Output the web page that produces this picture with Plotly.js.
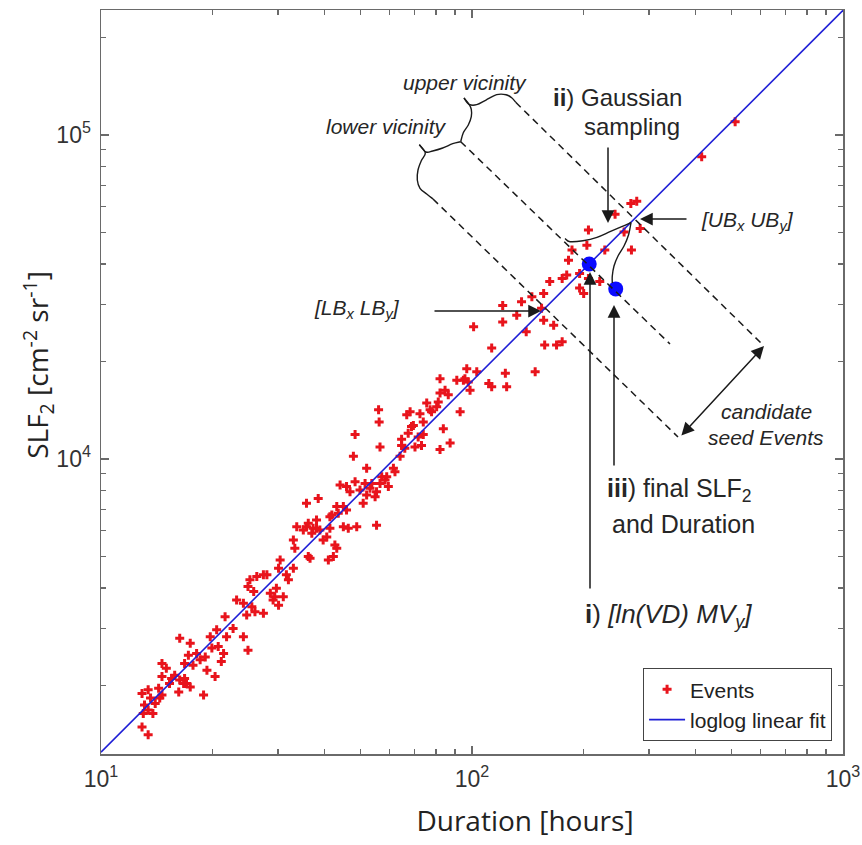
<!DOCTYPE html>
<html><head><meta charset="utf-8">
<script src="https://cdn.plot.ly/plotly-3.0.1.min.js"></script>
<style>html,body{margin:0;padding:0;background:#fff;}#chart{width:862px;height:845px;}</style>
</head><body><div id="chart"></div>
<script>
// ---- data ----
const durationHours = [
12.9,13.4,13.0,13.4,13.8,13.1,14.0,13.6,12.9,13.4,
14.4,14.6,14.3,14.6,15.0,14.6,15.3,15.5,15.8,16.2,
16.3,16.8,17.0,17.4,16.7,17.2,16.8,16.3,17.4,17.7,
18.1,18.5,18.9,19.3,19.1,19.7,19.9,20.3,20.5,20.7,
21.1,21.4,21.8,21.6,22.7,23.2,24.2,24.2,24.9,24.7,
25.2,24.9,25.8,25.5,26.0,26.3,27.4,27.4,28.0,28.6,
29.1,29.4,30.1,29.7,31.0,30.1,30.4,31.6,32.0,33.0,
33.0,33.3,33.7,35.1,35.8,36.2,36.6,35.8,36.2,37.0,
37.3,38.1,38.5,38.1,38.9,39.7,40.6,41.0,41.4,41.4,
41.9,42.3,42.7,43.2,43.2,43.6,45.0,45.0,45.9,46.4,
44.1,45.9,46.9,48.4,47.9,48.4,48.9,49.9,50.9,51.5,
52.0,52.0,53.1,53.7,55.3,54.8,55.3,56.0,56.2,56.5,
56.5,57.1,58.3,58.9,59.5,61.4,62.0,64.0,64.6,64.6,
65.9,66.7,67.3,68.1,68.7,69.5,70.2,71.6,72.4,73.1,
73.9,73.9,75.5,77.1,77.8,80.3,81.1,82.0,82.0,83.7,
84.6,86.3,87.3,82.0,91.0,92.9,94.8,95.7,96.8,97.7,
98.8,101,103,111,113,113,121,121,123,124,
512,416,278,268,243,284,257,269,206,204,
186,228,182,195,206,195,200,221,175,180,
162,156,154,156,166,145,136,132,140,157,
169,175,148];
const slf2 = [
1490,1410,1640,1680,1640,1740,1760,1830,1890,1940,
1830,1870,1960,2340,2260,2130,2030,2100,2150,1910,
2080,2100,2030,1980,2030,2480,2340,2800,2700,2310,
2510,2400,1870,2230,2450,2830,2610,2130,2970,2640,
2370,2510,2830,3260,3000,3670,3590,2830,2570,3300,
4240,4040,3900,3500,3380,4340,3340,4390,4390,3850,
3670,3760,3540,3990,3760,4600,4880,4390,4240,4600,
5620,5300,6180,6040,6180,5000,4940,7300,6330,5900,
6110,6480,7560,6110,6040,5620,5750,4880,6640,6110,
6720,5000,5430,5300,7130,6800,7130,6180,6960,6110,
8320,8220,7930,11900,10200,8510,6180,8020,7300,8410,
7740,9360,8120,8410,7930,7650,6250,14200,13000,10900,
8410,8820,8610,8820,8220,9360,9140,10200,11000,11500,
10800,13700,12000,14000,12600,12700,10900,11700,13800,11000,
11900,13000,14900,14200,14000,14500,15000,16000,17700,12400,
16300,15800,11200,10700,17500,14000,17500,17700,19000,17300,
16300,25600,18600,17100,16700,22000,29800,26500,18400,16700,
110000,85700,62500,61500,57000,51500,50200,44200,50900,45700,
44200,44200,41100,37400,36100,33700,32400,35300,36100,37000,
35300,32400,29200,26800,25900,31700,30600,27800,24700,22500,
22500,23000,18600];
const fitDuration = [10, 1000];
const fitSlf2 = [1245, 242700];
const seedDuration = [207, 244];
const seedSlf2 = [40000, 33500];
const xTickVals = [10, 100, 1000];
const xTickText = ['10<sup>1</sup>', '10<sup>2</sup>', '10<sup>3</sup>'];
const xMinorVals = [20,30,40,50,60,70,80,90,200,300,400,500,600,700,800,900];
const yTickVals = [10000, 100000];
const yTickText = ['10<sup>4</sup>', '10<sup>5</sup>'];
const yMinorVals = [2000,3000,4000,5000,6000,7000,8000,9000,20000,30000,40000,50000,60000,70000,80000,90000,200000];
const seriesNames = ['Events', 'loglog linear fit'];

// ---- layout geometry (pixels of the plot box) ----
const L = 101, T = 10, W = 742, H = 744;
function toPaper(p){ return [(p[0]-L)/W, (T+H-p[1])/H]; }
function f(v){ return v.toFixed(5); }
function smooth(pts){
  const p = pts.map(toPaper);
  let d = 'M' + f(p[0][0]) + ',' + f(p[0][1]);
  for (let i = 0; i < p.length-1; i++){
    const p0 = p[i-1] || p[i], p1 = p[i], p2 = p[i+1], p3 = p[i+2] || p[i+1];
    const c1 = [p1[0]+(p2[0]-p0[0])/6, p1[1]+(p2[1]-p0[1])/6];
    const c2 = [p2[0]-(p3[0]-p1[0])/6, p2[1]-(p3[1]-p1[1])/6];
    d += ' C' + f(c1[0]) + ',' + f(c1[1]) + ' ' + f(c2[0]) + ',' + f(c2[1]) + ' ' + f(p2[0]) + ',' + f(p2[1]);
  }
  return d;
}
const ink = '#1a1a1a';
function pathShape(pts){ return {type:'path', xref:'paper', yref:'paper', path: smooth(pts), line:{color:ink, width:1.4}}; }
function dashLine(a, b){ const A = toPaper(a), B = toPaper(b);
  return {type:'line', xref:'paper', yref:'paper', x0:A[0], y0:A[1], x1:B[0], y1:B[1], line:{color:ink, width:1.5, dash:'7px,5px'}}; }
function arrow(head, tail, both){ const H0 = toPaper(head);
  const a = {xref:'paper', yref:'paper', x:H0[0], y:H0[1], ax:tail[0]-head[0], ay:tail[1]-head[1],
    text:'', showarrow:true, arrowhead:2, arrowsize:1.7, arrowwidth:1.5, arrowcolor:ink, standoff:0};
  if (both){ a.arrowside = 'end+start'; a.startarrowhead = 2; a.startarrowsize = 1.7; a.startstandoff = 0; }
  return a; }
function label(text, c, size, opts){ const P = toPaper(c);
  return Object.assign({xref:'paper', yref:'paper', x:P[0], y:P[1], xanchor:'center', yanchor:'middle', text:text, showarrow:false,
    font:{family:'Liberation Sans, Arial, sans-serif', size:size, color:'#262626'}}, opts || {}); }

const shapes = [
  dashLine([515.7,102.3],[763,345]),
  dashLine([460.7,141.7],[670,344]),
  dashLine([433,199],[678,437]),
  // upper brace
  pathShape([[460.7,141.7],[463.3,132.7],[468.3,125],[471.3,116.7],[471.3,109.3],[469,104.3],[464,98]]),
  pathShape([[464,98],[469,104.3],[476.7,104.7],[486,100],[496.7,94.7],[506,94.7],[511.7,97.7],[515.7,102.3]]),
  // lower brace
  pathShape([[460.7,141.7],[452.7,143.7],[442.7,148],[432.7,151],[426,152],[419.3,144.7]]),
  pathShape([[419.3,144.7],[425.3,153],[421.3,160.7],[418,170],[417.3,180],[420,188.3],[426.7,194],[433,199]]),
  // gaussian sampling curves
  pathShape([[565,238.5],[570,241.7],[583,240.7],[597,237.3],[610,231.7],[621.7,226.7],[631,222.5]]),
  pathShape([[631,222.5],[628.5,235],[624,246],[618,256],[614,266],[612.3,276],[612.3,283]])
];

const annotations = [
  arrow([608,223],[608,146]),
  arrow([640,219],[688,219]),
  arrow([541,311],[433,311]),
  arrow([590,272],[590,590]),
  arrow([614,305],[614,467]),
  arrow([764,346],[680,437], true),
  label('<i>upper vicinity</i>', [465,82], 21),
  label('<i>lower vicinity</i>', [386,127], 21),
  label('<b>ii</b>) Gaussian', [617,97], 24),
  label('sampling', [632,127], 24),
  label('<i>[UB<sub>x</sub> UB<sub>y</sub>]</i>', [747,221], 21),
  label('<i>[LB<sub>x</sub> LB<sub>y</sub>]</i>', [357,309], 21),
  label('<i>candidate</i>', [766,411], 21),
  label('<i>seed Events</i>', [766,437], 21),
  label('<b>iii</b>) final SLF<sub>2</sub>', [679,490], 25),
  label('and Duration', [683,524], 25),
  label('<b>i</b>) <i>[ln(VD) MV<sub>y</sub>]</i>', [668,615], 26)
];

const axisCommon = {
  type:'log', showgrid:false, zeroline:false, showline:true, linecolor:'#6a6a6a', linewidth:1.5, mirror:'ticks',
  ticks:'inside', ticklen:8, tickwidth:1.2, tickcolor:'#6a6a6a', automargin:false,
  tickfont:{family:'Liberation Sans, Arial, sans-serif', size:23, color:'#333'}
};

const data = [
  {x: durationHours, y: slf2, type:'scatter', mode:'markers', name: seriesNames[0],
   marker:{symbol:'cross', size:7.5, color:'#e8141c', line:{width:0}}},
  {x: fitDuration, y: fitSlf2, type:'scatter', mode:'lines', name: seriesNames[1],
   line:{color:'#1f1fd6', width:1.6}},
  {x: seedDuration, y: seedSlf2, type:'scatter', mode:'markers', showlegend:false, hoverinfo:'skip',
   marker:{symbol:'circle', size:15, color:'#0a0aff'}}
];

const layout = {
  width:862, height:845, margin:{l:L, r:862-L-W, t:T, b:845-T-H},
  paper_bgcolor:'#fff', plot_bgcolor:'#fff', showlegend:true,
  xaxis: Object.assign({}, axisCommon, {range:[1,3], tickmode:'array', tickvals:xTickVals, ticktext:xTickText, ticklabelstandoff:4,
    minor:{tickmode:'array', tickvals:xMinorVals, ticks:'inside', ticklen:5, tickwidth:1.1, tickcolor:'#6a6a6a'},
    title:{text:'Duration [hours]', standoff:20, font:{family:'Open Sans, sans-serif', size:28, color:'#222'}}}),
  yaxis: Object.assign({}, axisCommon, {range:[3.0895, 5.386], tickmode:'array', tickvals:yTickVals, ticktext:yTickText, ticklabelstandoff:4,
    minor:{tickmode:'array', tickvals:yMinorVals, ticks:'inside', ticklen:5, tickwidth:1.1, tickcolor:'#6a6a6a'},
    title:{text:'SLF<sub>2</sub> [cm<sup>-2</sup> sr<sup>-1</sup>]', standoff:2, font:{family:'Open Sans, sans-serif', size:28, color:'#222'}}}),
  legend:{x:0.985, y:0.0175, xanchor:'right', yanchor:'bottom', bgcolor:'#fff', bordercolor:'#444', borderwidth:1.2,
    itemwidth:36, font:{family:'Liberation Sans, Arial, sans-serif', size:21, color:'#222'}, tracegroupgap:0},
  shapes: shapes,
  annotations: annotations
};

Plotly.newPlot('chart', data, layout, {displayModeBar:false, staticPlot:true}).then(function(gd){
  // the reference's axis titles sit slightly off-centre of the plot box
  const xt = gd.querySelector('.g-xtitle'); if (xt) xt.setAttribute('transform', 'translate(53,0)');
  const yt = gd.querySelector('.g-ytitle'); if (yt) yt.setAttribute('transform', 'translate(3,-17)');
});
</script></body></html>
